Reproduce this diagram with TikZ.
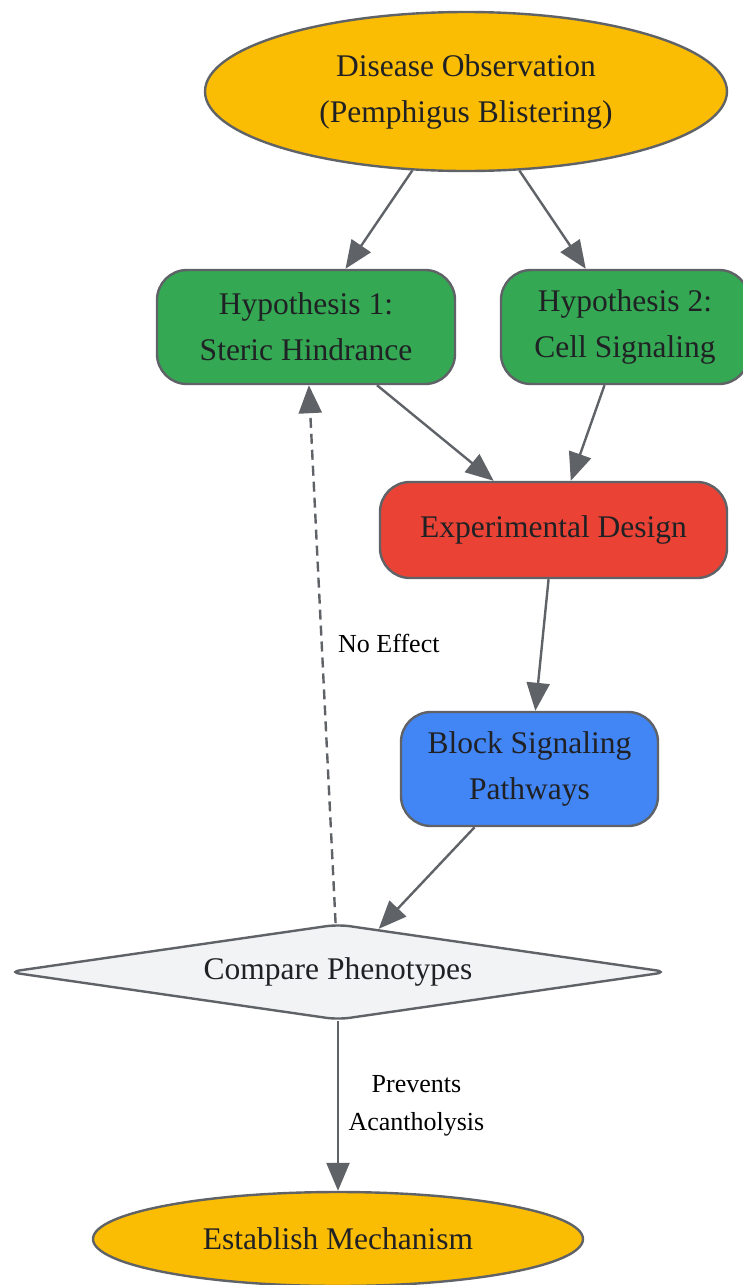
\documentclass[tikz,border=0pt]{standalone}
\usepackage{fontspec}
\setmainfont{Liberation Serif}
\usetikzlibrary{shapes.geometric, arrows.meta}

\definecolor{gyellow}{HTML}{FBBC04}
\definecolor{ggreen}{HTML}{34A853}
\definecolor{gred}{HTML}{EA4335}
\definecolor{gblue}{HTML}{4285F4}
\definecolor{ggray}{HTML}{F1F3F4}
\definecolor{gline}{HTML}{5F6368}
\definecolor{gtext}{HTML}{202124}

\begin{document}
\begin{tikzpicture}[x=1pt, y=-1pt,
    box/.style={draw=gline, line width=2.4pt, rounded corners=30pt, align=center,
        text=gtext, inner sep=0pt, font=\fontsize{31.5}{46}\selectfont},
    oval/.style={ellipse, draw=gline, line width=2.4pt, align=center,
        text=gtext, inner sep=0pt, font=\fontsize{31.5}{46}\selectfont},
    choice/.style={diamond, aspect=6.9, draw=gline, line width=2.4pt, rounded corners=12pt,
        text=gtext, inner sep=0pt, font=\fontsize{31.5}{46}\selectfont},
    arr/.style={draw=gline, line width=2.4pt, -{Triangle[length=28pt, width=23pt]}},
    lbl/.style={font=\fontsize{26}{38}\selectfont, align=center, text=black}]

            \useasboundingbox (0,0) rectangle (743,1285);

            % the observation at the top
            \node[oval, fill=gyellow, minimum width=522pt, minimum height=159pt]
                (obs) at (466,91.5) {Disease Observation\\(Pemphigus Blistering)};

            % the two hypotheses
            \node[box, fill=ggreen, minimum width=298pt, minimum height=114pt]
                (hypa) at (306,327) {Hypothesis 1:\\Steric Hindrance};
            \node[box, fill=ggreen, minimum width=248pt, minimum height=114pt]
                (hypb) at (625,327) {Hypothesis 2:\\Cell Signaling};

            % experiment and blocking step
            \node[box, fill=gred, minimum width=347pt, minimum height=96pt]
                (expt) at (553.5,530) {Experimental Design};
            \node[box, fill=gblue, minimum width=257pt, minimum height=114pt]
                (block) at (529.5,769) {Block Signaling\\Pathways};

            % the decision
            \node[choice, fill=ggray, minimum width=660pt, minimum height=96pt]
                (cmp) at (338,972) {Compare Phenotypes};

            % the result at the bottom
            \node[oval, fill=gyellow, minimum width=490pt, minimum height=94pt]
                (mech) at (338,1239) {Establish Mechanism};

            % arrows between the steps
            \draw[arr] (obs) -- (hypa);
            \draw[arr] (obs) -- (hypb);
            \draw[arr] (hypa) -- (expt);
            \draw[arr] (hypb) -- (expt);
            \draw[arr] (expt) -- (block);
            \draw[arr] (block) -- (cmp);

            % dashed way back to the first hypothesis
            \draw[arr, dashed, dash pattern=on 10pt off 6pt] (cmp) -- node[lbl, pos=0.52, right, xshift=12pt] (noeff) {No Effect} (hypa);

            % on to the mechanism
            \draw[arr] (cmp) -- node[lbl, right, xshift=6pt] (prev) {Prevents\\Acantholysis} (mech);
\end{tikzpicture}
\end{document}
